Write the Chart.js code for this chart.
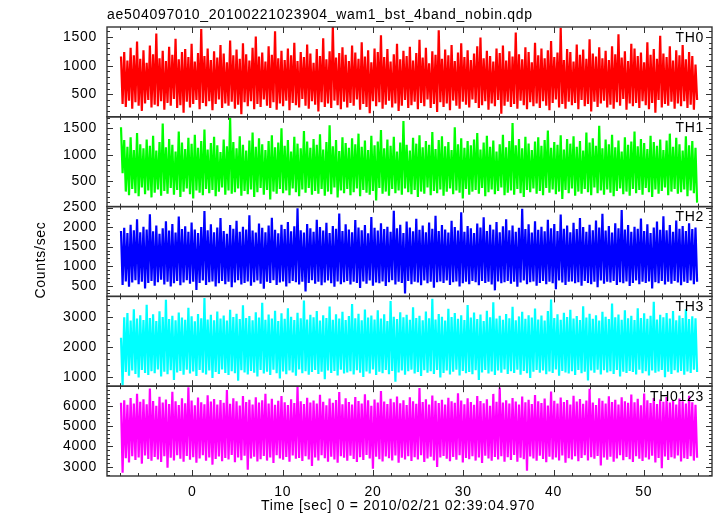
<!DOCTYPE html>
<html>
<head>
<meta charset="utf-8">
<script src="https://cdn.jsdelivr.net/npm/chart.js@4.4.1/dist/chart.umd.min.js"></script>
<style>
  html, body { margin: 0; padding: 0; background: #fff; }
  #wrap { width: 717px; height: 516px; }
</style>
</head>
<body>
<div id="wrap"><canvas id="lc" width="717" height="516"></canvas></div>
<script>
// WAM bst light curves, 4 bands + sum
const tStart = -7.9;
const tEnd = 55.9;

const th0 = [
  1160, 330, 1240, 280, 1090, 390, 1310, 250, 1180, 360, 1420, 300, 1120, 210, 1270, 340, 1050, 400, 1350, 270,
  1200, 320, 1560, 290, 1130, 380, 1260, 230, 1080, 350, 1330, 300, 1190, 420, 1470, 260, 1110, 310, 1240, 180,
  1290, 370, 1150, 270, 1380, 330, 1070, 400, 1220, 240, 1640, 350, 1170, 290, 1300, 380, 1100, 220, 1250, 330,
  1140, 410, 1360, 260, 1210, 340, 1060, 300, 1440, 370, 1180, 250, 1280, 320, 1120, 150, 1390, 360, 1200, 290,
  1090, 380, 1310, 240, 1510, 330, 1160, 280, 1230, 410, 1070, 300, 1340, 260, 1190, 360, 1600, 230, 1130, 340,
  1260, 290, 1100, 390, 1300, 220, 1180, 350, 1400, 310, 1080, 270, 1240, 420, 1150, 300, 1370, 250, 1210, 380,
  1050, 320, 1290, 200, 1170, 360, 1480, 280, 1110, 340, 1250, 260, 1690, 390, 1140, 310, 1220, 240, 1320, 370,
  1190, 270, 1080, 350, 1350, 300, 1230, 410, 1120, 230, 1410, 330, 1160, 280, 1270, 170, 1060, 380, 1300, 290,
  1240, 360, 1530, 250, 1150, 320, 1290, 390, 1070, 270, 1200, 340, 1380, 210, 1110, 300, 1260, 400, 1170, 260,
  1330, 310, 1090, 370, 1220, 240, 1450, 350, 1140, 290, 1310, 410, 1040, 260, 1250, 330, 1190, 190, 1620, 360,
  1120, 280, 1280, 340, 1180, 220, 1360, 390, 1080, 300, 1230, 250, 1390, 370, 1150, 320, 1270, 270, 1100, 410,
  1210, 350, 1340, 260, 1490, 310, 1130, 380, 1260, 230, 1170, 340, 1070, 290, 1300, 400, 1220, 160, 1350, 300,
  1090, 370, 1250, 280, 1160, 330, 1580, 250, 1200, 390, 1110, 310, 1320, 240, 1240, 360, 1060, 290, 1400, 340,
  1180, 260, 1300, 380, 1130, 300, 1270, 220, 1430, 350, 1150, 410, 1230, 270, 1660, 330, 1100, 250, 1290, 370,
  1240, 310, 1070, 350, 1370, 240, 1190, 400, 1280, 290, 1120, 330, 1460, 200, 1210, 370, 1160, 280, 1320, 340,
  1130, 390, 1260, 270, 1100, 320, 1340, 250, 1200, 360, 1550, 300, 1140, 420, 1250, 230, 1080, 340, 1380, 290,
  1300, 350, 1170, 260, 1230, 380, 1060, 310, 1410, 240, 1190, 350, 1290, 180, 1120, 400, 1520, 270, 1210, 330,
  1150, 300, 1340, 370, 1090, 250, 1270, 340, 1180, 290, 1360, 380, 1110, 260, 1240, 320, 1170, 230, 1020, 400
];
const th1 = [
  1520, 650, 1280, 300, 1150, 230, 1330, 350, 1090, 270, 1410, 210, 1200, 380, 1120, 250, 1290, 320, 1170, 190,
  1360, 280, 1080, 340, 1240, 220, 1590, 310, 1140, 260, 1300, 370, 1190, 240, 1060, 330, 1440, 200, 1230, 300,
  1110, 360, 1320, 250, 1210, 170, 1380, 320, 1130, 280, 1260, 230, 1480, 350, 1100, 270, 1220, 330, 1340, 210,
  1180, 300, 1050, 380, 1290, 240, 1160, 320, 1700, 260, 1240, 290, 1120, 360, 1350, 220, 1190, 310, 1080, 250,
  1270, 340, 1420, 200, 1150, 290, 1310, 370, 1200, 240, 1090, 330, 1260, 150, 1370, 300, 1140, 260, 1230, 350,
  1500, 270, 1170, 320, 1280, 230, 1060, 360, 1340, 290, 1210, 210, 1120, 340, 1450, 280, 1250, 370, 1130, 240,
  1300, 310, 1190, 260, 1390, 350, 1100, 220, 1240, 300, 1560, 250, 1160, 380, 1280, 190, 1070, 320, 1330, 270,
  1220, 350, 1130, 230, 1310, 290, 1200, 360, 1400, 210, 1150, 330, 1270, 280, 1090, 240, 1360, 310, 1180, 130,
  1250, 370, 1470, 260, 1120, 300, 1290, 220, 1170, 350, 1340, 270, 1060, 320, 1230, 240, 1640, 360, 1190, 290,
  1080, 250, 1320, 330, 1210, 200, 1370, 300, 1140, 260, 1260, 380, 1190, 230, 1430, 310, 1110, 270, 1280, 340,
  1350, 220, 1160, 300, 1240, 360, 1090, 250, 1520, 320, 1200, 280, 1310, 170, 1130, 350, 1260, 240, 1180, 300,
  1290, 330, 1410, 260, 1100, 370, 1230, 210, 1360, 290, 1150, 340, 1270, 250, 1060, 310, 1200, 380, 1380, 230,
  1140, 280, 1260, 320, 1600, 240, 1180, 350, 1300, 270, 1120, 200, 1340, 330, 1210, 290, 1090, 360, 1250, 260,
  1330, 310, 1170, 230, 1280, 370, 1460, 280, 1130, 340, 1240, 250, 1190, 300, 1370, 160, 1100, 330, 1300, 270,
  1210, 360, 1350, 220, 1150, 300, 1260, 260, 1080, 350, 1420, 290, 1230, 230, 1310, 380, 1170, 270, 1550, 320,
  1120, 240, 1290, 340, 1200, 280, 1380, 210, 1140, 310, 1270, 360, 1060, 250, 1330, 300, 1190, 220, 1250, 350,
  1440, 270, 1160, 330, 1300, 240, 1220, 370, 1110, 290, 1360, 200, 1240, 340, 1170, 260, 1290, 310, 1090, 380,
  1270, 230, 1400, 300, 1150, 350, 1320, 260, 1200, 290, 1080, 340, 1350, 210, 1180, 320, 1260, 270, 1130, 90
];
const th2 = [
  1900, 520, 1980, 610, 1850, 470, 2060, 580, 1920, 640, 2200, 540, 1870, 600, 2010, 430, 1940, 570, 2330, 620,
  1890, 500, 2040, 590, 1830, 650, 1970, 530, 2150, 600, 1910, 480, 2080, 560, 1860, 620, 2270, 510, 1950, 580,
  2020, 640, 1880, 550, 2120, 600, 1940, 390, 1850, 570, 2000, 630, 2410, 520, 1920, 590, 2070, 610, 1870, 480,
  1990, 560, 2230, 620, 1900, 540, 1830, 600, 2050, 460, 1960, 580, 2160, 640, 1880, 530, 2010, 570, 1940, 610,
  2300, 500, 1910, 590, 1860, 630, 2090, 550, 1980, 420, 1870, 600, 2040, 570, 2240, 640, 1930, 520, 1840, 580,
  2060, 610, 1950, 480, 2130, 560, 1890, 620, 2020, 590, 2480, 530, 1920, 600, 1860, 350, 2080, 570, 1970, 640,
  1880, 550, 2190, 600, 2000, 510, 1910, 580, 2110, 630, 1850, 560, 2030, 470, 1960, 610, 2350, 540, 1900, 590,
  2070, 620, 1940, 530, 1870, 600, 2180, 570, 1990, 440, 1920, 610, 2050, 550, 1840, 630, 2260, 500, 1980, 580,
  1910, 560, 2100, 610, 1950, 490, 2010, 590, 1880, 640, 2420, 530, 1970, 600, 2060, 570, 1850, 300, 2140, 620,
  1990, 540, 1890, 600, 2210, 580, 1930, 510, 2040, 630, 1870, 560, 2120, 600, 1960, 450, 2290, 590, 1900, 610,
  2050, 570, 1940, 630, 1860, 520, 2160, 590, 2000, 610, 1910, 480, 2380, 560, 1880, 600, 2030, 540, 1970, 620,
  1850, 590, 2090, 510, 1990, 620, 2250, 570, 1900, 600, 2060, 530, 1940, 380, 2130, 610, 1870, 560, 2020, 590,
  2200, 620, 1920, 550, 2040, 600, 1880, 470, 1980, 580, 2470, 630, 1950, 540, 2070, 590, 1860, 610, 2150, 500,
  1930, 570, 2010, 620, 1890, 540, 2190, 600, 1970, 560, 2080, 410, 1900, 630, 2320, 580, 1960, 520, 2040, 600,
  1870, 610, 2110, 560, 1950, 590, 2230, 500, 2000, 620, 1880, 570, 2060, 540, 1920, 600, 2170, 460, 1990, 630,
  2340, 550, 1910, 600, 2030, 580, 1860, 620, 2100, 520, 1970, 590, 2440, 560, 1940, 610, 2050, 490, 1880, 570,
  2010, 630, 1960, 540, 2220, 600, 1900, 570, 2070, 610, 1850, 430, 1990, 590, 2140, 560, 1930, 620, 2280, 530,
  1920, 600, 2050, 550, 1880, 620, 2170, 580, 1960, 510, 2030, 600, 1900, 570, 2100, 630, 1950, 540, 1990, 600
];
const th3 = [
  2300, 720, 2980, 1160, 3120, 1040, 2870, 1210, 3250, 1100, 2940, 980, 3050, 1230, 2890, 1130, 3400, 1060, 2960, 1190,
  3080, 1120, 2860, 1250, 3180, 1010, 2990, 1170, 3560, 1090, 2920, 1220, 3030, 900, 2880, 1150, 3140, 1200, 2970, 1070,
  2900, 1240, 3300, 1110, 3010, 1180, 2850, 1030, 3090, 1230, 2950, 1140, 3620, 1080, 2910, 1210, 3060, 960, 2880, 1160,
  3170, 1100, 2940, 1250, 3040, 1130, 2870, 1060, 3230, 1190, 2990, 1120, 3100, 870, 2920, 1220, 3380, 1150, 2960, 1080,
  3020, 1200, 2880, 1140, 3150, 1010, 2970, 1230, 3460, 1110, 2900, 1170, 3070, 1060, 2940, 1240, 3200, 1120, 2860, 950,
  3110, 1180, 2930, 1090, 3280, 1210, 3000, 1150, 2890, 1040, 3130, 1250, 2950, 1120, 3540, 1190, 2910, 1070, 3060, 1160,
  2980, 1230, 3190, 1100, 2870, 1170, 3050, 920, 2960, 1210, 3340, 1130, 2900, 1200, 3080, 1050, 2940, 1240, 3160, 1110,
  2890, 1150, 3020, 1190, 3420, 1080, 2950, 1220, 3100, 1140, 2880, 1000, 3240, 1180, 2970, 1110, 3040, 1250, 2910, 1060,
  3210, 1170, 2940, 1120, 3080, 1230, 2860, 1090, 3520, 1200, 3000, 840, 2920, 1150, 3150, 1210, 2980, 1070, 3060, 1190,
  2900, 1240, 3310, 1110, 2960, 1160, 3030, 1030, 2880, 1220, 3170, 1140, 2950, 1190, 3600, 1100, 2910, 1230, 3090, 980,
  3000, 1130, 2870, 1210, 3260, 1080, 2990, 1170, 3120, 1240, 2930, 1050, 3050, 1200, 2890, 1120, 3390, 1160, 2970, 1090,
  3140, 1220, 2920, 900, 3070, 1150, 2860, 1230, 3200, 1110, 2980, 1180, 3480, 1060, 2940, 1210, 3030, 1140, 2900, 1250,
  3090, 1100, 2950, 1190, 3330, 1130, 2880, 1240, 3010, 1070, 3160, 1200, 2930, 1120, 3050, 960, 2970, 1170, 3270, 1230,
  2910, 1140, 3040, 1210, 2870, 1090, 3190, 1180, 3570, 1130, 2960, 1250, 3080, 1040, 2900, 1200, 3130, 1150, 2990, 1110,
  3230, 1190, 2940, 1060, 3020, 1230, 2890, 1120, 3350, 1170, 2970, 880, 3100, 1210, 2930, 1140, 3050, 1240, 2870, 1080,
  3160, 1220, 3000, 1150, 2920, 1190, 3440, 1100, 2980, 1230, 3070, 1010, 2900, 1170, 3210, 1130, 2950, 1200, 3030, 1160,
  2890, 1080, 3280, 1240, 2960, 1120, 3110, 1190, 2930, 1050, 3030, 1210, 3500, 1140, 2910, 1180, 3060, 1230, 2980, 990,
  3120, 1170, 2940, 1100, 3190, 1220, 2880, 1150, 3040, 1200, 2960, 1070, 3250, 1180, 2920, 1130, 3010, 1240, 2950, 1160
];
const th0123 = [
  6150, 2700, 6280, 3420, 6050, 3210, 6390, 3510, 6120, 3330, 6600, 3460, 6200, 3150, 6330, 3550, 6080, 3380, 6850, 3290,
  6240, 3480, 6010, 3360, 6450, 3230, 6170, 3520, 6310, 2950, 6090, 3440, 6700, 3310, 6220, 3570, 6040, 3390, 6380, 3250,
  6130, 3530, 6920, 3340, 6260, 3470, 6030, 3200, 6410, 3410, 6180, 3560, 6080, 3290, 6520, 3450, 6210, 3100, 6340, 3380,
  6060, 3500, 6290, 3270, 6150, 3430, 6780, 3350, 6100, 3580, 6370, 3220, 6230, 3460, 6020, 3320, 6480, 3540, 6190, 2850,
  6300, 3400, 6070, 3490, 6420, 3260, 6160, 3370, 6270, 3530, 6600, 3300, 6110, 3450, 6350, 3180, 6050, 3560, 6250, 3410,
  6490, 3340, 6180, 3480, 6040, 3240, 6320, 3550, 6140, 3390, 6960, 3430, 6220, 3280, 6090, 3510, 6400, 3350, 6170, 3040,
  6260, 3460, 6110, 3310, 6550, 3570, 6200, 3420, 6030, 3250, 6360, 3490, 6150, 3360, 6290, 3200, 6680, 3520, 6080, 3440,
  6380, 3290, 6190, 3540, 6070, 3380, 6440, 3230, 6240, 3470, 6120, 3330, 6570, 3580, 6280, 3410, 6010, 2900, 6310, 3490,
  6160, 3370, 6730, 3260, 6210, 3500, 6090, 3420, 6350, 3300, 6180, 3550, 6460, 3190, 6130, 3440, 6270, 3360, 6040, 3520,
  6420, 3280, 6230, 3470, 6100, 3350, 6880, 3560, 6190, 3230, 6320, 3410, 6060, 3490, 6510, 3310, 6250, 2980, 6140, 3450,
  6300, 3530, 6070, 3390, 6400, 3270, 6220, 3480, 6150, 3340, 6620, 3560, 6260, 3210, 6080, 3430, 6370, 3370, 6190, 3510,
  6050, 3300, 6480, 3450, 6240, 3180, 6130, 3540, 6330, 3400, 6010, 3290, 6590, 3480, 6200, 3360, 6910, 3520, 6170, 3240,
  6280, 3470, 6110, 3330, 6390, 3580, 6210, 3250, 6060, 3440, 6460, 3370, 6180, 2800, 6300, 3500, 6090, 3410, 6530, 3290,
  6230, 3540, 6140, 3380, 6360, 3220, 6020, 3490, 6710, 3350, 6250, 3460, 6120, 3310, 6410, 3550, 6190, 3200, 6290, 3420,
  6070, 3360, 6500, 3510, 6210, 3270, 6340, 3430, 6100, 3570, 6260, 3300, 6840, 3470, 6160, 3390, 6040, 3530, 6380, 3060,
  6250, 3450, 6120, 3340, 6470, 3490, 6190, 3250, 6300, 3410, 6060, 3560, 6420, 3320, 6230, 3480, 6150, 3370, 6560, 3230,
  6180, 3520, 6350, 3390, 6030, 3280, 6610, 3460, 6270, 3350, 6140, 3540, 6390, 3210, 6090, 3430, 6310, 2920, 6200, 3500,
  6440, 3330, 6160, 3470, 6280, 3400, 6070, 3550, 6360, 3260, 6220, 3420, 6110, 3380, 6500, 3510, 6180, 3300, 6050, 3440
];

const bandNames = ['TH0', 'TH1', 'TH2', 'TH3', 'TH0123'];
const yRanges = [[107, 1675], [15, 1720], [225, 2525], [690, 3675], [2540, 6970]];
const yMajor = [500, 500, 500, 1000, 1000];
const yMinor = [100, 100, 100, 200, 200];
const xRange = [-9.45, 57.55];

const titleText = 'ae504097010_20100221023904_wam1_bst_4band_nobin.qdp';
const xTitle = 'Time [sec] 0 = 2010/02/21 02:39:04.970';
const yTitle = 'Counts/sec';

const colors = ['#ff0000', '#00ff00', '#0000ff', '#00ffff', '#ff00ff'];
const FONT = '"Liberation Sans", Arial, Helvetica, sans-serif';

const series = [th0, th1, th2, th3, th0123];
const binWidth = (tEnd - tStart) / (th0.length - 1);
const times = th0.map((_, k) => tStart + k * binWidth);

const tickFont = { family: FONT, size: 14 };

const scales = {
  x: {
    type: 'linear', min: xRange[0], max: xRange[1],
    grid: { display: false, drawTicks: false }, border: { display: false },
    ticks: { stepSize: 10, includeBounds: false, autoSkip: false, maxRotation: 0, padding: 8, color: '#000', font: tickFont },
    afterFit: s => { s.height = 40; }
  }
};
series.forEach((_, i) => {
  scales['y' + i] = {
    type: 'linear', position: 'left', stack: 'bands', stackWeight: 1, weight: series.length - i,
    min: yRanges[i][0], max: yRanges[i][1],
    grid: { display: false, drawTicks: false }, border: { display: false },
    ticks: { autoSkip: false, padding: 10, color: '#000', font: tickFont, callback: v => String(v) },
    afterBuildTicks: s => {
      const step = yMajor[i];
      const t = [];
      for (let v = Math.ceil(s.min / step) * step; v <= s.max; v += step) t.push({ value: v });
      s.ticks = t;
    },
    afterFit: s => { s.width = 107; }
  };
});

function seg(ctx, x1, y1, x2, y2) {
  ctx.beginPath(); ctx.moveTo(x1, y1); ctx.lineTo(x2, y2); ctx.stroke();
}

// qdp style frames with inward ticks on every side + the texts
const qdpFrame = {
  id: 'qdpFrame',
  beforeDraw(chart) {
    chart.ctx.letterSpacing = '0.7px';
  },
  afterDatasetsDraw(chart) {
    const ctx = chart.ctx;
    const xs = chart.scales.x;
    const L = chart.chartArea.left, R = chart.chartArea.right;
    ctx.save();
    ctx.strokeStyle = '#333';
    ctx.lineWidth = 1;
    series.forEach((_, i) => {
      const ys = chart.scales['y' + i];
      const T = ys.top, B = ys.bottom;
      for (let v = Math.ceil(ys.min / yMinor[i]) * yMinor[i]; v <= ys.max; v += yMinor[i]) {
        const y = Math.round(ys.getPixelForValue(v)) + 0.5;
        const len = v % yMajor[i] === 0 ? 6 : 3;
        seg(ctx, L, y, L + len, y);
        seg(ctx, R, y, R - len, y);
      }
      for (let t = -8; t <= xRange[1]; t += 2) {
        const x = Math.round(xs.getPixelForValue(t)) + 0.5;
        const len = t % 10 === 0 ? 6 : 3;
        seg(ctx, x, T, x, T + len);
        seg(ctx, x, B, x, B - len);
      }
    });
    ctx.lineWidth = 1.4;
    series.forEach((_, i) => {
      const ys = chart.scales['y' + i];
      ctx.strokeRect(L, ys.top, R - L, ys.bottom - ys.top);
    });

    ctx.fillStyle = '#000';
    ctx.letterSpacing = '0.7px';
    ctx.font = '14px ' + FONT;
    ctx.textAlign = 'right';
    ctx.textBaseline = 'middle';
    series.forEach((_, i) => {
      ctx.fillText(bandNames[i], R - 8, chart.scales['y' + i].top + 11);
    });

    ctx.textAlign = 'left';
    ctx.textBaseline = 'alphabetic';
    ctx.fillText(titleText, L, 19);

    ctx.textAlign = 'center';
    ctx.textBaseline = 'middle';
    ctx.fillText(xTitle, 398, 506);

    ctx.translate(41, 260);
    ctx.rotate(-Math.PI / 2);
    ctx.fillText(yTitle, 0, 0);
    ctx.restore();
  }
};

const lc = new Chart(document.getElementById('lc').getContext('2d'), {
  type: 'line',
  data: {
    datasets: series.map((vals, i) => ({
      label: bandNames[i],
      data: vals.map((v, k) => ({ x: times[k], y: v })),
      yAxisID: 'y' + i,
      borderColor: colors[i],
      borderWidth: 2.2,
      borderJoinStyle: 'bevel',
      pointRadius: 0,
      tension: 0
    }))
  },
  options: {
    responsive: false,
    animation: false,
    events: [],
    layout: { padding: { top: 27, right: 5, left: 0, bottom: 0 } },
    plugins: { legend: { display: false }, tooltip: { enabled: false }, title: { display: false } },
    scales: scales
  },
  plugins: [qdpFrame]
});
</script>
</body>
</html>
